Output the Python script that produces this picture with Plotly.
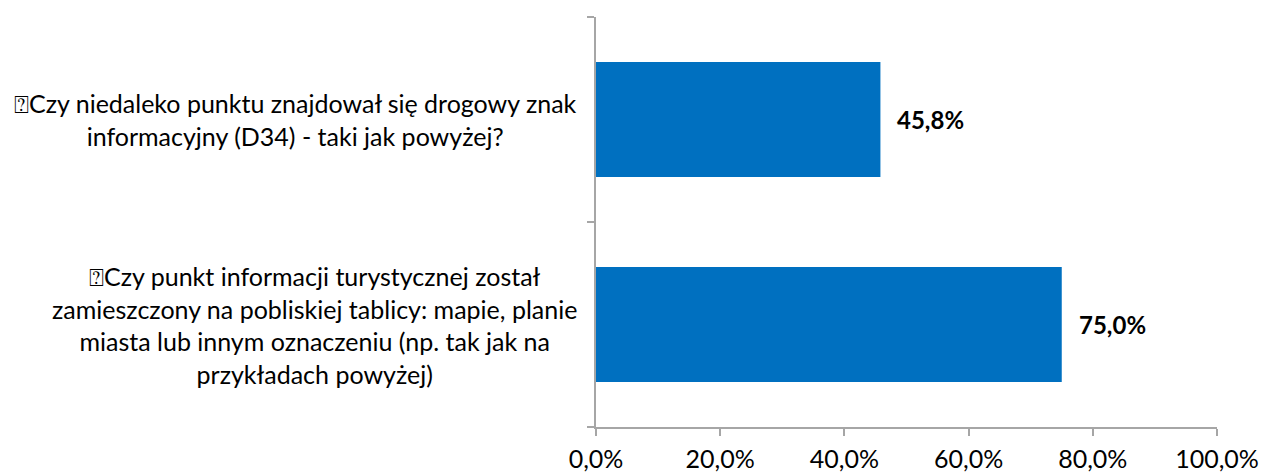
import plotly.graph_objects as go

# Survey questions (top to bottom) and share of "yes" answers
categories = [
    "⍰Czy niedaleko punktu znajdował się drogowy znak<br>informacyjny (D34) - taki jak powyżej?",
    "⍰Czy punkt informacji turystycznej został<br>zamieszczony na pobliskiej tablicy: mapie, planie<br>miasta lub innym oznaczeniu (np. tak jak na<br>przykładach powyżej)",
]
values = [0.458, 0.750]
x_ticks = [0.0, 0.2, 0.4, 0.6, 0.8, 1.0]

FONT = "Lato, 'Open Sans', sans-serif"
AXIS_GREY = "#a6a6a6"

fig = go.Figure(
    go.Bar(
        x=values,
        y=categories,
        orientation="h",
        marker=dict(color="#0070c0", line=dict(width=0)),
        hoverinfo="skip",
    )
)

# question texts, centred line by line, to the left of the axis
for cat in categories:
    fig.add_annotation(
        x=0, xref="paper", y=cat, yref="y",
        text=cat, showarrow=False, align="center",
        xanchor="right", yanchor="middle", xshift=-17,
        font=dict(family=FONT, size=25, color="#000000"),
    )

# bold value labels beside the bars
for cat, val in zip(categories, values):
    fig.add_annotation(
        x=val, xref="x", y=cat, yref="y",
        text=f"{val * 100:.1f}%".replace(".", ","),
        showarrow=False, xanchor="left", yanchor="middle", xshift=15,
        font=dict(family=FONT, size=24, color="#000000", weight="bold"),
    )

fig.update_layout(
    width=1261, height=473,
    margin=dict(l=596, r=44, t=17, b=46, autoexpand=False),
    paper_bgcolor="white", plot_bgcolor="white",
    separators=",.",
    bargap=0.44,
    showlegend=False,
    font=dict(family=FONT, size=25, color="#000000"),
)

fig.update_xaxes(
    range=[0, 1], tickvals=x_ticks, tickformat=".1%",
    showgrid=False, zeroline=False,
    showline=True, linecolor=AXIS_GREY, linewidth=1.5,
    ticks="outside", ticklen=7, tickcolor=AXIS_GREY, tickwidth=1.5,
    tickfont=dict(family=FONT, size=25, color="#000000"),
    ticklabelstandoff=2,
    automargin=False,
    fixedrange=True,
)

fig.update_yaxes(
    categoryorder="array", categoryarray=categories[::-1],
    showticklabels=False, showgrid=False, zeroline=False,
    showline=True, linecolor=AXIS_GREY, linewidth=1.5,
    ticks="outside", tickson="boundaries", ticklen=7,
    tickcolor=AXIS_GREY, tickwidth=1.5,
    automargin=False,
    fixedrange=True,
)

fig.write_html("out.html", config={"displayModeBar": False})
